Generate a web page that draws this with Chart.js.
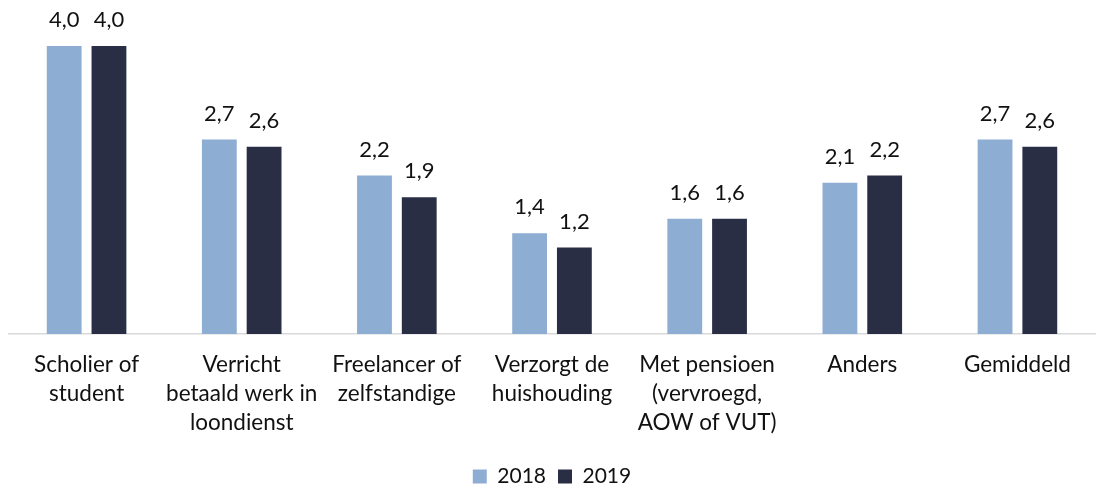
<!DOCTYPE html>
<html>
<head>
<meta charset="utf-8">
<script src="https://cdn.jsdelivr.net/npm/chart.js@4"></script>
<style>
    html, body { margin: 0; padding: 0; background: #fff; }
    #wrap { width: 1096px; height: 489px; }
</style>
</head>
<body>
<div id="wrap"><canvas id="chart"></canvas></div>
<script>
// Chart data
const categories = [
    ['Scholier of', 'student'],
    ['Verricht', 'betaald werk in', 'loondienst'],
    ['Freelancer of', 'zelfstandige'],
    ['Verzorgt de', 'huishouding'],
    ['Met pensioen', '(vervroegd,', 'AOW of VUT)'],
    ['Anders'],
    ['Gemiddeld']
];
const values2018 = [4.0, 2.7, 2.2, 1.4, 1.6, 2.1, 2.7];
const values2019 = [4.0, 2.6, 1.9, 1.2, 1.6, 2.2, 2.6];

const lightBlue = '#8EADD3';
const darkNavy = '#292E44';
const fontFamily = 'Lato, "Open Sans", sans-serif';

// Draw the value above each bar (Dutch decimal comma)
const valueLabels = {
    id: 'valueLabels',
    afterDatasetsDraw(chart) {
        const ctx = chart.ctx;
        ctx.save();
        ctx.font = '22px ' + fontFamily;
        ctx.fillStyle = '#111';
        ctx.textAlign = 'center';
        ctx.textBaseline = 'alphabetic';
        chart.data.datasets.forEach((ds, i) => {
            chart.getDatasetMeta(i).data.forEach((bar, j) => {
                const txt = ds.data[j].toFixed(1).replace('.', ',');
                ctx.fillText(txt, bar.x, bar.y - 19);
            });
        });
        ctx.restore();
    }
};

// Keep the legend a fixed height so it sits near the bottom edge
const legendHeight = {
    id: 'legendHeight',
    beforeLayout(chart) {
        const legend = chart.legend;
        if (legend && !legend._fixedFit) {
            const fit = legend.fit;
            legend.fit = function () {
                fit.call(this);
                this.height = 35;
            };
            legend._fixedFit = true;
        }
    }
};

new Chart(document.getElementById('chart').getContext('2d'), {
    type: 'bar',
    data: {
        labels: categories,
        datasets: [
            { label: '2018', data: values2018, backgroundColor: lightBlue },
            { label: '2019', data: values2019, backgroundColor: darkNavy }
        ]
    },
    options: {
        responsive: true,
        maintainAspectRatio: false,
        animation: false,
        categoryPercentage: 0.577,
        barPercentage: 0.778,
        layout: { padding: { left: 9, right: 1, top: 10, bottom: 0 } },
        scales: {
            y: { display: false, min: 0, max: 4.5 },
            x: {
                grid: { display: false },
                border: { color: '#D9D9D9', width: 1.5 },
                afterFit: (scale) => { scale.height = 120; },
                ticks: {
                    color: '#111',
                    font: { family: fontFamily, size: 22.5, lineHeight: 1.29 },
                    padding: 8,
                    maxRotation: 0,
                    autoSkip: false
                }
            }
        },
        plugins: {
            legend: {
                position: 'bottom',
                labels: {
                    color: '#111',
                    font: { family: fontFamily, size: 21 },
                    boxWidth: 14,
                    boxHeight: 14,
                    padding: 12
                }
            },
            tooltip: { enabled: false }
        }
    },
    plugins: [valueLabels, legendHeight]
});
</script>
</body>
</html>
